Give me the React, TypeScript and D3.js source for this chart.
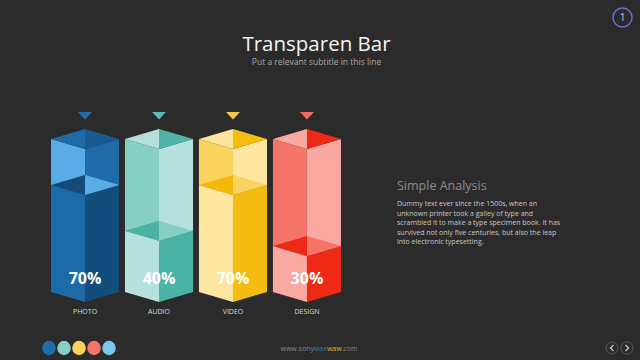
import React from "react";
import * as d3 from "d3";

const categories = ["PHOTO", "AUDIO", "VIDEO", "DESIGN"];
const values = [70, 40, 70, 30];
const valueLabels = ["70%", "40%", "70%", "30%"];
const paragraphLines = [
  "Dummy text ever since the 1500s, when an",
  "unknown printer took a galley of type and",
  "scrambled it to make a type specimen book. It has",
  "survived not only five centuries, but also the leap",
  "into electronic typesetting.",
];

// palette per bar (styles)
const palette = [
  { marker: "#1f6fad", topL: "#1f6aa8", topR: "#1a5a92", emptyL: "#5aace6", emptyR: "#1e6ba8", fillTopL: "#134a78", fillTopR: "#5aace6", fillL: "#1c6aa7", fillR: "#134d7c" },
  { marker: "#5cbcb0", topL: "#b3e0dc", topR: "#4fb3a8", emptyL: "#86cfc6", emptyR: "#b5e2de", fillTopL: "#4ab3a6", fillTopR: "#86cfc6", fillL: "#b5e2de", fillR: "#4ab3a6" },
  { marker: "#f7c646", topL: "#fbe49c", topR: "#f5bd10", emptyL: "#fad35e", emptyR: "#fde6a0", fillTopL: "#f3b90c", fillTopR: "#fad35e", fillL: "#fde6a0", fillR: "#f4bb10" },
  { marker: "#f06a5e", topL: "#f9a8a2", topR: "#ee2a16", emptyL: "#f4746a", emptyR: "#f9a8a2", fillTopL: "#ee2a16", fillTopR: "#f4746a", fillL: "#f9a8a2", fillR: "#ee2a16" },
];
const footerColors = ["#1f6fad", "#86cfc6", "#fad35e", "#f4746a", "#79c6f0"];

const W = 640;
const H = 360;
const FONT = "'Open Sans', 'Noto Sans', sans-serif";

export default function App() {
  const x = d3.scaleBand<string>().domain(categories).range([51, 341]).paddingInner(0.08).paddingOuter(0);
  const y = d3.scaleLinear().domain([0, 100]).range([292, 139]);
  const d = 10;
  const pts = (p: [number, number][]) => p.map((q) => q.join(",")).join(" ");

  return (
    <svg width={W} height={H} style={{ position: "absolute", left: 0, top: 0, display: "block" }}>
      <rect x={0} y={0} width={W} height={H} fill="#2b2b2b" />
      <text x={316.5} y={50.5} textAnchor="middle" fill="#f4f4f4" fontFamily={FONT} fontSize={20.5}>Transparen Bar</text>
      <text x={316.5} y={65} textAnchor="middle" fill="#a8a8a8" fontFamily={FONT} fontSize={8.5}>Put a relevant subtitle in this line</text>

      <circle cx={622.5} cy={17.5} r={9.5} fill="none" stroke="#6b6bd6" strokeWidth={1.5} />
      <text x={622.5} y={21} textAnchor="middle" fill="#d0d0e8" fontFamily={FONT} fontSize={10}>1</text>

      {categories.map((c, i) => {
        const hw = x.bandwidth() / 2;
        const cx = (x(c) as number) + hw;
        const yt = y(100);
        const yb = y(0);
        const yf = y(values[i]);
        const p = palette[i];
        return (
          <g key={c}>
            <polygon points={pts([[cx - 7, 112], [cx + 7, 112], [cx, 119.5]])} fill={p.marker} />
            {/* empty part */}
            <polygon points={pts([[cx - hw, yt], [cx, yt + d], [cx, yf + d], [cx - hw, yf]])} fill={p.emptyL} />
            <polygon points={pts([[cx, yt + d], [cx + hw, yt], [cx + hw, yf], [cx, yf + d]])} fill={p.emptyR} />
            {/* filled part */}
            <polygon points={pts([[cx - hw, yf], [cx, yf + d], [cx, yb + d], [cx - hw, yb]])} fill={p.fillL} />
            <polygon points={pts([[cx, yf + d], [cx + hw, yf], [cx + hw, yb], [cx, yb + d]])} fill={p.fillR} />
            {/* fill top */}
            <polygon points={pts([[cx - hw, yf], [cx, yf - d], [cx, yf + d]])} fill={p.fillTopL} />
            <polygon points={pts([[cx, yf - d], [cx + hw, yf], [cx, yf + d]])} fill={p.fillTopR} />
            {/* outer top */}
            <polygon points={pts([[cx - hw, yt], [cx, yt - d], [cx, yt + d]])} fill={p.topL} />
            <polygon points={pts([[cx, yt - d], [cx + hw, yt], [cx, yt + d]])} fill={p.topR} />
            <text x={cx} y={284} textAnchor="middle" fill="#ffffff" fontFamily={FONT} fontWeight={700} fontSize={16}>{valueLabels[i]}</text>
            <text x={cx} y={314} textAnchor="middle" fill="#d8d8d8" fontFamily={FONT} fontSize={7}>{c}</text>
          </g>
        );
      })}

      <text x={397} y={190} fill="#8c8c8c" fontFamily={FONT} fontSize={12.5}>Simple Analysis</text>
      {paragraphLines.map((l, i) => (
        <text key={i} x={397} y={206 + i * 9.6} fill="#c8c8c8" fontFamily={FONT} fontSize={7}>{l}</text>
      ))}

      {footerColors.map((c, i) => (
        <ellipse key={i} cx={49 + i * 15} cy={348} rx={6.8} ry={7.2} fill={c} />
      ))}
      <text x={319} y={351} textAnchor="middle" fontFamily={FONT} fontSize={7} fill="#8a8a8a">
        www.sony<tspan fill="#2f7fc0">wax</tspan><tspan fill="#e0b020">waw</tspan>.com
      </text>
      <circle cx={612} cy={348} r={6} fill="none" stroke="#5a5a5a" strokeWidth={1} />
      <circle cx={627} cy={348} r={6} fill="none" stroke="#5a5a5a" strokeWidth={1} />
      <path d="M613.5,345 L610.5,348 L613.5,351" fill="none" stroke="#bbbbbb" strokeWidth={1.5} />
      <path d="M625.5,345 L628.5,348 L625.5,351" fill="none" stroke="#bbbbbb" strokeWidth={1.5} />
    </svg>
  );
}
